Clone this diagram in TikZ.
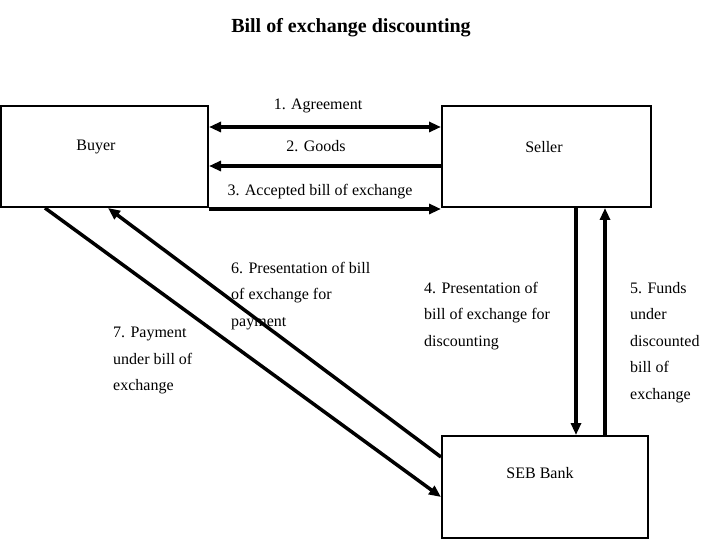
\documentclass[tikz,border=0pt]{standalone}
\usepackage{fontspec}
\setmainfont{Liberation Serif}
\usetikzlibrary{arrows.meta}
\begin{document}
\begin{tikzpicture}[x=1pt,y=-1pt,
  box/.style={draw,line width=2pt,rectangle,inner sep=0pt},
  flow/.style={line width=3.5pt,-{Triangle[length=12pt,width=10pt]}},
  bothflow/.style={line width=3.5pt,{Triangle[length=12pt,width=10pt]}-{Triangle[length=12pt,width=10pt]}},
  lbl/.style={font=\fontsize{16}{26.5}\selectfont,inner sep=0pt},
  mlbl/.style={font=\fontsize{16}{26.5}\selectfont,inner sep=0pt,align=left,anchor=north west}]
\useasboundingbox (0,0) rectangle (720,540);
\fill[white] (0,0) rectangle (720,540);
\node[font=\fontsize{20}{22}\selectfont\bfseries] (title) at (351,28) {Bill of exchange discounting};
\node[box,minimum width=207pt,minimum height=101pt] (buyer) at (104.5,156.5) {};
\node[box,minimum width=209pt,minimum height=101pt] (seller) at (546.5,156.5) {};
\node[box,minimum width=206pt,minimum height=102pt] (bank) at (545,487) {};
\node[lbl] (tbuyer) at (96,147) {Buyer};
\node[lbl] (tseller) at (544,147) {Seller};
\node[lbl] (tbank) at (540,473) {SEB Bank};
% horizontal flows
\draw[bothflow] ([yshift=29.5pt]buyer.east) -- ([yshift=29.5pt]seller.west);
\draw[flow] ([yshift=-9.5pt]seller.west) -- ([yshift=-9.5pt]buyer.east);
\draw[flow] ([yshift=-1pt]buyer.south east) -- ([yshift=-1pt]seller.south west);
\node[lbl] (l1) at (318,106) {1. Agreement};
\node[lbl] (l2) at (316,146) {2. Goods};
\node[lbl] (l3) at (320,192) {3. Accepted bill of exchange};
% vertical flows
\draw[flow] ([xshift=29.5pt]seller.south) -- ([xshift=31pt]bank.north);
\draw[flow] ([xshift=60pt]bank.north) -- ([xshift=58.5pt]seller.south);
\node[mlbl] (l4) at (424,282) {4. Presentation of\\bill of exchange for\\discounting};
\node[mlbl] (l5) at (630,282) {5. Funds\\under\\discounted\\bill of\\exchange};
% diagonal flows
\draw[flow] ([yshift=30pt]bank.west) -- ([xshift=3.5pt]buyer.south);
\draw[flow] ([xshift=-59.5pt]buyer.south) -- ([yshift=-10pt]bank.west);
\node[mlbl] (l6) at (231,262) {6. Presentation of bill\\of exchange for\\payment};
\node[mlbl] (l7) at (113,327) {7. Payment\\under bill of\\exchange};
\end{tikzpicture}
\end{document}
